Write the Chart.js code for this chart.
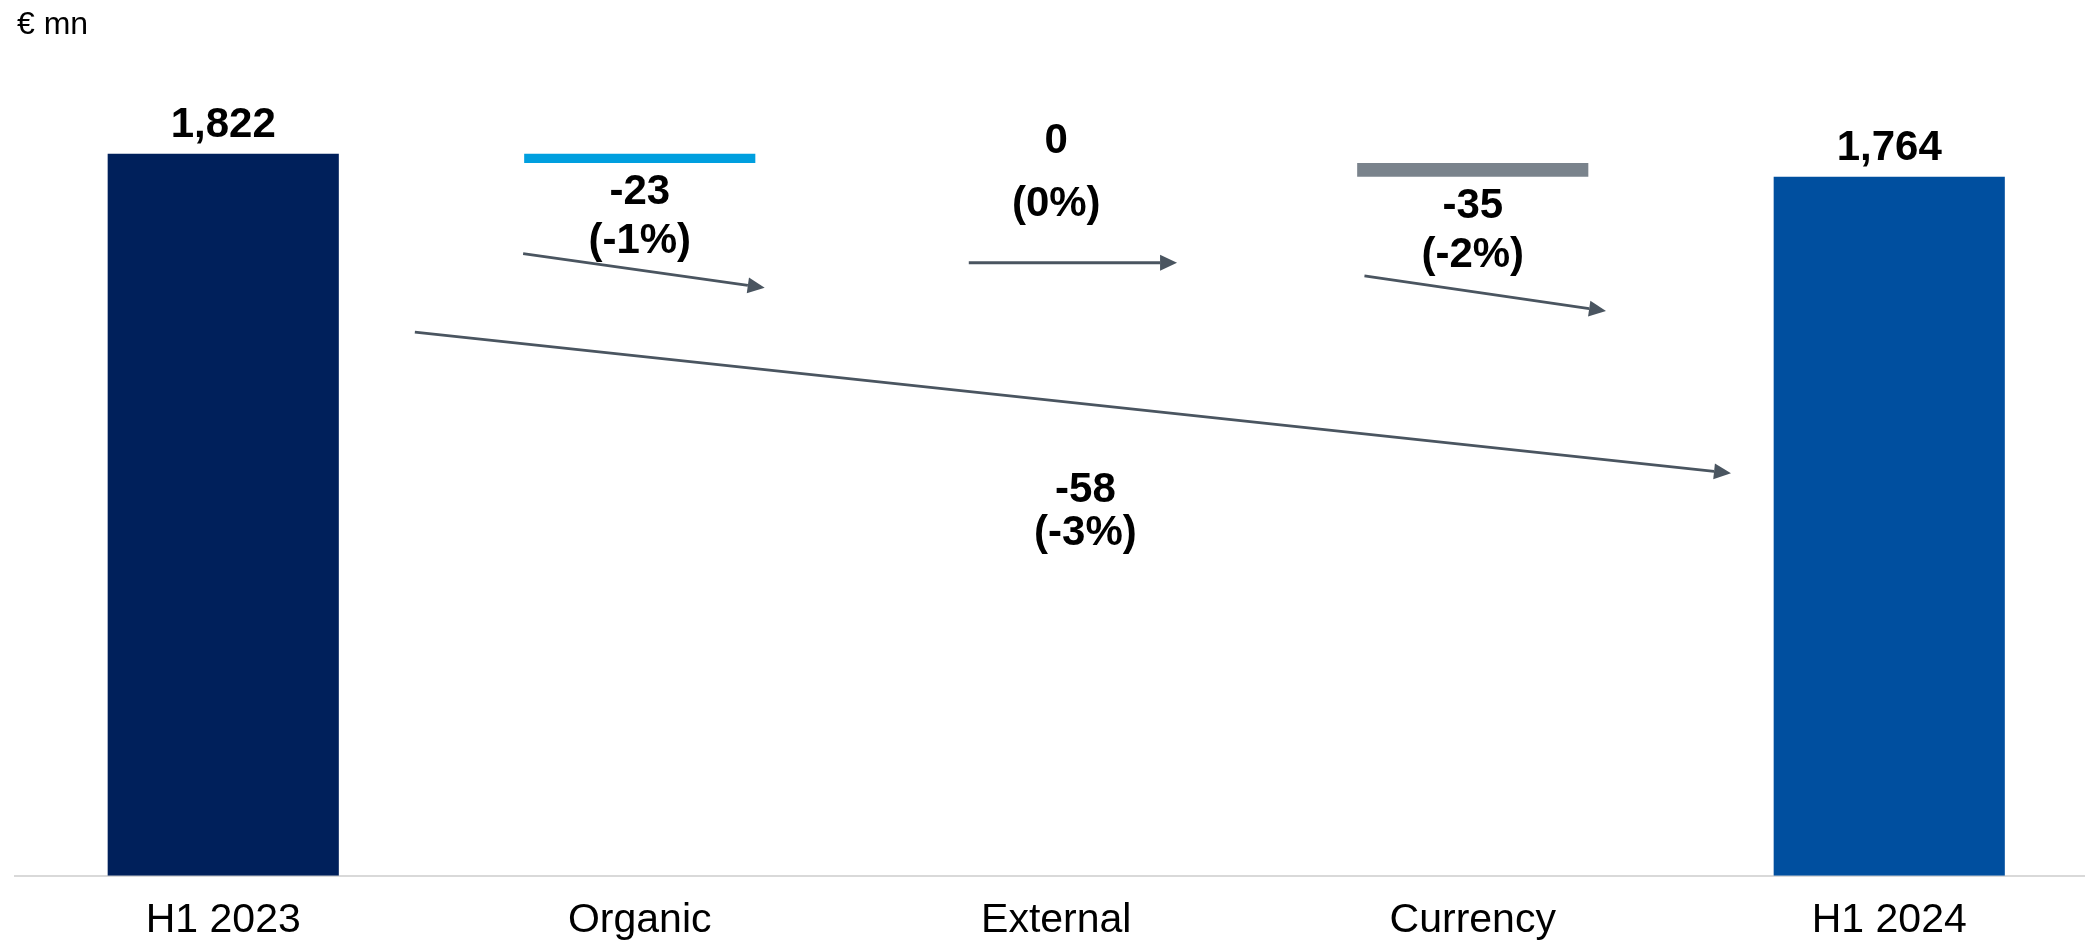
<!DOCTYPE html>
<html>
<head>
<meta charset="utf-8">
<script src="https://cdn.jsdelivr.net/npm/chart.js@4.4.1/dist/chart.umd.min.js"></script>
<style>
  html, body { margin: 0; padding: 0; background: #fff; overflow: hidden; }
  #wrap { width: 2085px; height: 944px; position: relative; }
</style>
</head>
<body>
<div id="wrap"><canvas id="bridge"></canvas></div>
<script>
// values
const categories = ['H1 2023', 'Organic', 'External', 'Currency', 'H1 2024'];
const startValue = 1822;
const endValue = 1764;
const deltas = [-23, 0, -35];
const deltaPct = ['(-1%)', '(0%)', '(-2%)'];
const totalChange = -58;
const totalPct = '(-3%)';
const unitLabel = '€ mn';

// arrows: [x in category units, y in € mn]
const arrowFrom = [[0.72, 1570], [1.79, 1547], [2.74, 1514], [0.46, 1372]];
const arrowTo = [[1.30, 1484], [2.29, 1547], [3.32, 1425], [3.62, 1016]];
const totalLabelAt = [2.07, 942, 834];

const barColors = ['#00205B', '#009FDF', '#7A838C', '#7A838C', '#004F9F'];
const arrowColor = '#4A5560';
const boldFont = 'bold 42px "Liberation Sans", Arial, sans-serif';

// floating ranges for the bridge
let run = startValue;
let ranges = [[0, startValue]];
for (let i = 0; i < deltas.length; ++i) {
    ranges.push([run + deltas[i], run]);
    run += deltas[i];
}
ranges.push([0, endValue]);
let points = ranges.map(function(r, i) { return {x: i, y: r}; });

function fmt(v) { return v.toLocaleString('en-US'); }

const labelsPlugin = {
    id: 'bridgeLabels',
    afterDatasetsDraw(chart) {
        const ctx = chart.ctx;
        const xs = chart.scales.x, ys = chart.scales.y;
        ctx.save();
        // arrows
        ctx.strokeStyle = arrowColor;
        ctx.fillStyle = arrowColor;
        ctx.lineWidth = 2.8;
        for (let i = 0; i < arrowFrom.length; ++i) {
            let x0 = xs.getPixelForValue(arrowFrom[i][0]), y0 = ys.getPixelForValue(arrowFrom[i][1]);
            let x1 = xs.getPixelForValue(arrowTo[i][0]), y1 = ys.getPixelForValue(arrowTo[i][1]);
            let a = Math.atan2(y1 - y0, x1 - x0);
            let len = 17, half = 8;
            let bx = x1 - len * Math.cos(a), by = y1 - len * Math.sin(a);
            ctx.beginPath();
            ctx.moveTo(x0, y0);
            ctx.lineTo(bx, by);
            ctx.stroke();
            ctx.beginPath();
            ctx.moveTo(x1, y1);
            ctx.lineTo(bx + half * Math.sin(a), by - half * Math.cos(a));
            ctx.lineTo(bx - half * Math.sin(a), by + half * Math.cos(a));
            ctx.closePath();
            ctx.fill();
        }
        // value labels
        ctx.fillStyle = '#000';
        ctx.font = boldFont;
        ctx.textAlign = 'center';
        ctx.textBaseline = 'alphabetic';
        const meta = chart.getDatasetMeta(0);
        meta.data.forEach(function(bar, i) {
            let x = bar.x;
            if (i == 0 || i == categories.length - 1) {
                ctx.fillText(fmt(ranges[i][1]), x, ys.getPixelForValue(ranges[i][1]) - 17);
            } else {
                let d = deltas[i - 1];
                let yb = ys.getPixelForValue(ranges[i][0]);
                if (d == 0) {
                    ctx.fillText(fmt(d), x, yb - 10);
                    ctx.fillText(deltaPct[i - 1], x, yb + 53);
                } else {
                    ctx.fillText(fmt(d), x, yb + 41);
                    ctx.fillText(deltaPct[i - 1], x, yb + 90);
                }
            }
        });
        let tx = xs.getPixelForValue(totalLabelAt[0]);
        ctx.fillText(fmt(totalChange), tx, ys.getPixelForValue(totalLabelAt[1]));
        ctx.fillText(totalPct, tx, ys.getPixelForValue(totalLabelAt[2]));
        // unit
        ctx.font = '32px "Liberation Sans", Arial, sans-serif';
        ctx.textAlign = 'left';
        ctx.fillText(unitLabel, 17, 34);
        ctx.restore();
    }
};

new Chart('bridge', {
    type: 'bar',
    data: {
        datasets: [{
            data: points,
            backgroundColor: barColors,
            borderWidth: 0,
            barPercentage: 0.555,
            categoryPercentage: 1.0
        }]
    },
    options: {
        responsive: true,
        maintainAspectRatio: false,
        animation: false,
        layout: { padding: { left: 15, right: 0, top: 0, bottom: -21 } },
        plugins: { legend: { display: false }, tooltip: { enabled: false } },
        scales: {
            x: {
                type: 'linear',
                offset: false,
                min: -0.5,
                max: 4.47,
                afterBuildTicks: function(axis) {
                    axis.ticks = categories.map(function(c, i) { return {value: i}; });
                },
                grid: { display: false, drawTicks: false },
                border: { display: true, color: '#D9D9D9', width: 2 },
                ticks: {
                    autoSkip: false,
                    maxRotation: 0,
                    padding: 20,
                    color: '#000',
                    font: { family: '"Liberation Sans", Arial, sans-serif', size: 41 },
                    callback: function(v) { return categories[v]; }
                }
            },
            y: {
                display: false,
                min: 0,
                max: 2210
            }
        }
    },
    plugins: [labelsPlugin]
});
</script>
</body>
</html>
